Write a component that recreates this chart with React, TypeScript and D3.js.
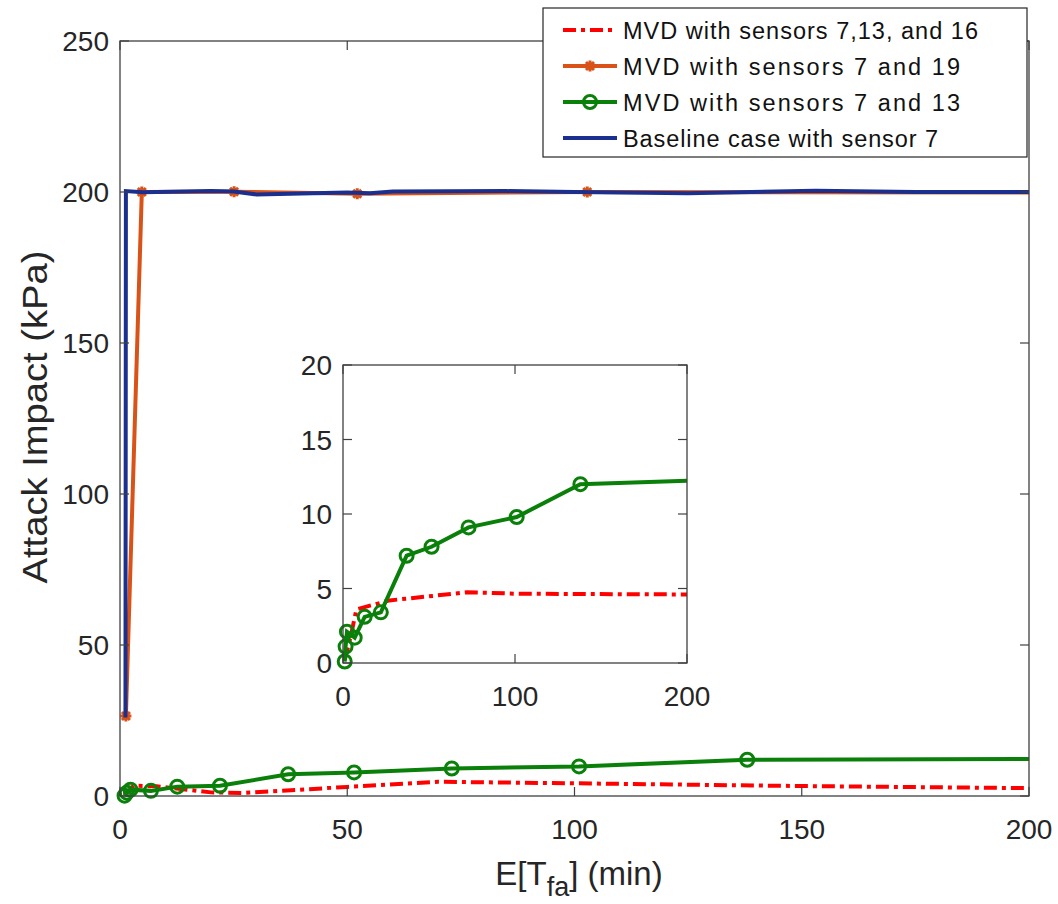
import React from 'react';
import * as d3 from 'd3';

type Pt = [number, number];

// series: [E[Tfa] (min), impact (kPa)]
const redMain: Pt[] = [[1, 0.3], [3, 3.4], [8, 3.2], [20, 1.2], [27, 1.0], [50, 3.0], [70, 4.7], [100, 4.2], [150, 3.3], [200, 2.6]];
const redInset: Pt[] = [[1, 0.2], [4.5, 1.8], [7.8, 3.6], [27, 4.2], [52, 4.5], [72, 4.75], [101, 4.65], [200, 4.6]];
const orange: Pt[] = [[1.3, 26.5], [4.8, 200], [25.1, 200.1], [52.2, 199.4], [102.8, 200], [220, 199.8]];
const green: Pt[] = [[1, 0.1], [1.5, 1.1], [2.3, 2.1], [6.8, 1.7], [12.6, 3.1], [22, 3.4], [37, 7.2], [51.5, 7.8], [73, 9.1], [101, 9.8], [138, 12.0], [220, 12.3]];
const blue: Pt[] = [[1.2, 26], [1.3, 200.3], [5, 199.9], [20, 200.3], [25, 200.2], [30, 199.2], [50, 199.8], [55, 199.6], [60, 200.2], [85, 200.3], [100, 200], [125, 199.6], [153, 200.4], [175, 200], [200, 200]];

const mainXTicks = [0, 50, 100, 150, 200];
const mainYTicks = [0, 50, 100, 150, 200, 250];
const insetXTicks = [0, 100, 200];
const insetYTicks = [0, 5, 10, 15, 20];

const legendLabels = [
  'MVD with sensors 7,13, and 16',
  'MVD with sensors 7 and 19',
  'MVD with sensors 7 and 13',
  'Baseline case with sensor 7',
];
// text widths measured on the reference legend
const legendWidths = [355, 337, 337, 315];

const RED = '#FF0000';
const ORANGE = '#D95319';
const GREEN = '#0A800A';
const BLUE = '#1B2F8E';
const AXIS = '#404040';
const FONT = '"Liberation Sans", Arial, sans-serif';

const star = 'M-5.5,0L5.5,0M0,-5.5L0,5.5M-4,-4L4,4M-4,4L4,-4';

const Panel = ({ x, y, xTicks, yTicks, red, id, tickFont }: any) => {
  const [x0, x1] = x.range();
  const [y0, y1] = y.range();
  const line = d3.line<Pt>().x(d => x(d[0])).y(d => y(d[1]));
  const inside = (d: Pt) => d[0] <= x.domain()[1];
  const showTop = id === 'main';
  return (
    <g>
      <defs>
        <clipPath id={id}>
          <rect x={x0 - 10} y={y1 - 10} width={x1 - x0 + 10} height={y0 - y1 + 20} />
        </clipPath>
      </defs>
      <rect x={x0} y={y1} width={x1 - x0} height={y0 - y1} fill="#fff" />
      <g clipPath={`url(#${id})`}>
        <path d={line(red) || ''} fill="none" stroke={RED} strokeWidth={4} strokeDasharray="13,5,4,5" />
        {showTop && (
          <g>
            <path d={line(orange) || ''} fill="none" stroke={ORANGE} strokeWidth={4} />
            {orange.filter(inside).map((d, i) => (
              <path key={i} d={star} transform={`translate(${x(d[0])},${y(d[1])})`} stroke={ORANGE} strokeWidth={3} fill="none" />
            ))}
          </g>
        )}
        <path d={line(green) || ''} fill="none" stroke={GREEN} strokeWidth={4} />
        {green.filter(inside).map((d, i) => (
          <circle key={i} cx={x(d[0])} cy={y(d[1])} r={6.5} fill="none" stroke={GREEN} strokeWidth={3} />
        ))}
        {showTop && <path d={line(blue) || ''} fill="none" stroke={BLUE} strokeWidth={4} />}
      </g>
      <rect x={x0} y={y1} width={x1 - x0} height={y0 - y1} fill="none" stroke={AXIS} strokeWidth={1.3} />
      {xTicks.map((t: number) => (
        <g key={'x' + t}>
          <line x1={x(t)} x2={x(t)} y1={y0} y2={y0 - 9} stroke={AXIS} strokeWidth={1.2} />
          <line x1={x(t)} x2={x(t)} y1={y1} y2={y1 + 9} stroke={AXIS} strokeWidth={1.2} />
          <text x={x(t)} y={y0 + 43} textAnchor="middle" fontSize={tickFont} fill="#262626">{t}</text>
        </g>
      ))}
      {yTicks.map((t: number) => (
        <g key={'y' + t}>
          <line x1={x0} x2={x0 + 9} y1={y(t)} y2={y(t)} stroke={AXIS} strokeWidth={1.2} />
          <line x1={x1} x2={x1 - 9} y1={y(t)} y2={y(t)} stroke={AXIS} strokeWidth={1.2} />
          <text x={x0 - 11} y={y(t) + 10} textAnchor="end" fontSize={tickFont} fill="#262626">{t}</text>
        </g>
      ))}
    </g>
  );
};

export default function App() {
  const xMain = d3.scaleLinear().domain([0, 200]).range([120, 1029]);
  const yMain = d3.scaleLinear().domain([0, 250]).range([796, 41]);
  const xIn = d3.scaleLinear().domain([0, 200]).range([343, 687]);
  const yIn = d3.scaleLinear().domain([0, 20]).range([663, 365]);

  const legX = 543, legY = 8, legW = 484, legH = 149;
  const rowY = (i: number) => legY + 22 + i * 36;

  return (
    <svg width={1058} height={904} style={{ position: 'absolute', left: 0, top: 0, background: '#fff' }} fontFamily={FONT}>
      <Panel id="main" x={xMain} y={yMain} xTicks={mainXTicks} yTicks={mainYTicks} red={redMain} tickFont={28} />
      <Panel id="inset" x={xIn} y={yIn} xTicks={insetXTicks} yTicks={insetYTicks} red={redInset} tickFont={28} />

      <text x={579} y={885} textAnchor="middle" fontSize={33} fill="#262626">
        E[T<tspan dy={11} fontSize={27}>fa</tspan><tspan dy={-11}>] (min)</tspan>
      </text>
      <text transform="translate(47,417) rotate(-90)" textAnchor="middle" fontSize={35} fill="#262626"
        textLength={333} lengthAdjust="spacingAndGlyphs">
        Attack Impact (kPa)
      </text>

      <g>
        <rect x={legX} y={legY} width={legW} height={legH} fill="#fff" stroke="#262626" strokeWidth={1.2} />
        {legendLabels.map((lab, i) => {
          const cy = rowY(i);
          const col = [RED, ORANGE, GREEN, BLUE][i];
          return (
            <g key={lab}>
              <line x1={563} x2={617} y1={cy} y2={cy} stroke={col} strokeWidth={4} strokeDasharray={i === 0 ? '13,5,4,5' : undefined} />
              {i === 1 && <path d={star} transform={`translate(590,${cy})`} stroke={ORANGE} strokeWidth={3} fill="none" />}
              {i === 2 && <circle cx={590} cy={cy} r={6.5} fill="none" stroke={GREEN} strokeWidth={3} />}
              <text x={623} y={cy + 8.5} fontSize={23.5} fill="#111" textLength={legendWidths[i]} lengthAdjust="spacing">{lab}</text>
            </g>
          );
        })}
      </g>
    </svg>
  );
}
